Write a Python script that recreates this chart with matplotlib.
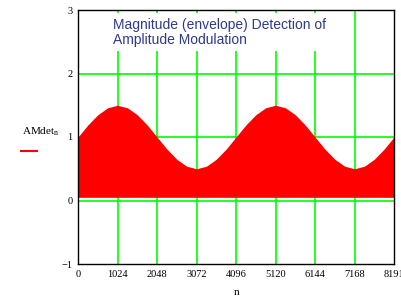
import numpy as np
import matplotlib.pyplot as plt

# envelope of the detected signal, read every 256 samples
n_pts = [0, 256, 512, 768, 1024, 1280, 1536, 1792, 2048, 2304, 2560, 2816,
         3072, 3328, 3584, 3840, 4096, 4352, 4608, 4864, 5120, 5376, 5632,
         5888, 6144, 6400, 6656, 6912, 7168, 7424, 7680, 7936, 8191]
env = [1.00, 1.19, 1.35, 1.46, 1.50, 1.46, 1.35, 1.19, 1.00, 0.81, 0.65, 0.54,
       0.50, 0.54, 0.65, 0.81, 1.00, 1.19, 1.35, 1.46, 1.50, 1.46, 1.35, 1.19,
       1.00, 0.81, 0.65, 0.54, 0.50, 0.54, 0.65, 0.81, 1.00]
floor = 0.05

xticks = [0, 1024, 2048, 3072, 4096, 5120, 6144, 7168, 8191]
yticks = [-1, 0, 1, 2, 3]

fig = plt.figure(figsize=(4.02, 3.04), dpi=100)
ax = fig.add_axes([78/402, 40/304, 316/402, 254/304])

green = '#00ff00'
for x in xticks[1:-1]:
    ax.axvline(x, color=green, lw=1.2, zorder=1)
for y in [0, 1, 2]:
    ax.axhline(y, color=green, lw=1.2, zorder=1)

ax.fill_between(n_pts, floor, env, color='red', lw=0, zorder=2)

ax.set_xlim(0, 8191)
ax.set_ylim(-1, 3)
ax.set_xticks(xticks)
ax.set_yticks(yticks)
ax.tick_params(length=0, pad=4, labelsize=7.5)
for lab in ax.get_xticklabels() + ax.get_yticklabels():
    lab.set_family('Liberation Serif')
for s in ax.spines.values():
    s.set_color('black')
    s.set_linewidth(1.0)

fig.text(237/402, 9/304, 'n', family='Liberation Serif', fontsize=8, ha='center')
fig.text(22/402, 170/304, r'AMdet$_{\mathregular{n}}$', family='Liberation Serif', fontsize=8)
fig.add_artist(plt.Line2D([21/402, 37/402], [153/304, 153/304], color='red', lw=1.5))

ax.text(0.11, 0.97, 'Magnitude (envelope) Detection of\nAmplitude Modulation',
        transform=ax.transAxes, family='Liberation Sans', fontsize=10,
        color='#2e3a8c', va='top', ha='left', linespacing=1.15, zorder=3,
        bbox=dict(facecolor='white', edgecolor='none', pad=3))

fig.savefig('out.png', dpi=100)
